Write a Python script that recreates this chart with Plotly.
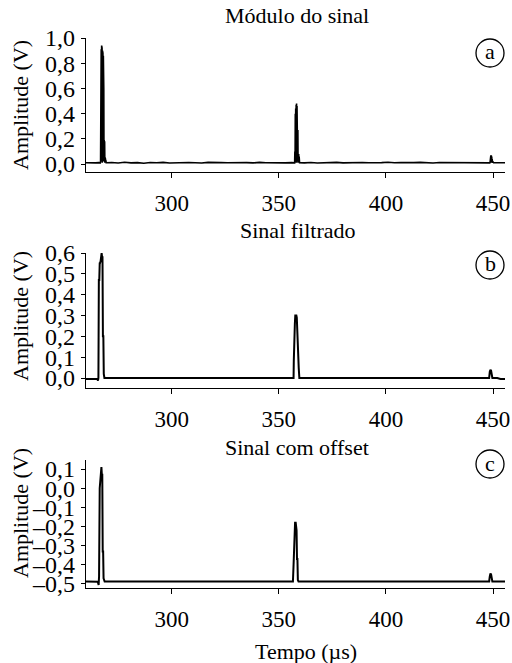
import plotly.graph_objects as go

# ---------------- data ----------------
# Panel (a): Módulo do sinal
base_a1_t = [260, 261.5, 263, 264.5, 266, 266.7]
base_a1_v = [0.010, 0.008, 0.012, 0.009, 0.011, 0.010]
peak_a1_t = [266.8, 266.9, 267.0, 267.1, 267.2, 267.3, 267.4, 267.5, 267.6, 267.7, 267.8, 267.9,
             268.0, 268.1, 268.2, 268.3, 268.4, 268.5, 268.6, 268.7, 268.8, 268.9, 269.0, 269.1,
             269.2, 269.3, 269.4]
peak_a1_v = [0.02, 0.84, 0.05, 0.91, 0.02, 0.94, 0.03, 0.92, 0.01, 0.90, 0.04, 0.88,
             0.02, 0.86, 0.05, 0.60, 0.03, 0.19, 0.02, 0.18, 0.01, 0.05, 0.01, 0.04,
             0.01, 0.03, 0.01]
base_a2_t = [269.6, 272, 275, 278, 281, 284, 287, 290, 293, 296, 299, 302, 305, 308, 311, 314,
             317, 320, 323, 326, 329, 332, 335, 338, 341, 344, 347, 350, 353, 356, 357.3]
base_a2_v = [0.010, 0.012, 0.008, 0.014, 0.009, 0.011, 0.007, 0.012, 0.010, 0.013, 0.008, 0.011,
             0.009, 0.012, 0.010, 0.008, 0.013, 0.009, 0.011, 0.010, 0.012, 0.008, 0.011, 0.009,
             0.013, 0.010, 0.008, 0.012, 0.009, 0.011, 0.010]
peak_a2_t = [357.4, 357.5, 357.6, 357.7, 357.8, 357.9, 358.0, 358.1, 358.2, 358.3, 358.4, 358.5,
             358.6, 358.7, 358.8, 358.9, 359.0, 359.1, 359.2, 359.3, 359.4, 359.5, 359.6]
peak_a2_v = [0.01, 0.10, 0.01, 0.40, 0.02, 0.44, 0.03, 0.47, 0.01, 0.48, 0.02, 0.46,
             0.03, 0.44, 0.02, 0.27, 0.01, 0.26, 0.02, 0.08, 0.01, 0.06, 0.01]
base_a3_t = [359.7, 362, 365, 368, 371, 374, 377, 380, 383, 386, 389, 392, 395, 398, 401, 404,
             407, 410, 413, 416, 419, 422, 425, 428, 431, 434, 437, 440, 443, 446, 448.5]
base_a3_v = [0.010, 0.009, 0.012, 0.008, 0.011, 0.010, 0.013, 0.009, 0.011, 0.008, 0.012, 0.010,
             0.009, 0.011, 0.014, 0.010, 0.012, 0.009, 0.011, 0.013, 0.010, 0.008, 0.012, 0.011,
             0.009, 0.010, 0.012, 0.008, 0.011, 0.010, 0.009]
peak_a3_t = [448.6, 448.8, 448.9, 449.0, 449.1, 449.2, 449.3, 449.4, 449.5, 449.6, 449.8, 450.0, 450.3]
peak_a3_v = [0.01, 0.05, 0.01, 0.07, 0.02, 0.07, 0.01, 0.06, 0.02, 0.04, 0.01, 0.02, 0.01]
base_a4_t = [450.5, 452, 454, 455.6]
base_a4_v = [0.010, 0.009, 0.011, 0.010]

# Panel (b): Sinal filtrado
t_b = [260, 262, 264, 265.3, 265.6, 265.8, 266.0, 266.2, 266.4, 266.5, 266.8, 267.0, 267.3, 267.5,
       267.7, 267.9, 268.1, 268.3, 268.6, 270, 300, 330, 356.9, 357.0, 357.2, 357.5, 357.7, 358.2,
       358.4, 358.6, 358.8, 359.0, 359.3, 359.6, 380, 420, 448.2, 448.5, 448.8, 449.1, 449.4,
       449.7, 452, 453.5, 455.6]
v_b = [-0.005, -0.005, -0.005, -0.005, -0.013, 0.0, 0.47, 0.47, 0.55, 0.55, 0.56, 0.60, 0.60, 0.58,
       0.58, 0.20, 0.20, 0.02, 0.0, 0.0, 0.0, 0.0, 0.0, 0.08, 0.26, 0.26, 0.30, 0.30,
       0.29, 0.21, 0.21, 0.05, 0.05, 0.0, 0.0, 0.0, 0.0, 0.03, 0.04, 0.035, 0.01,
       0.0, 0.0, -0.005, -0.005]

# Panel (c): Sinal com offset
t_c = [260, 263, 265.5, 265.9, 266.1, 266.4, 266.7, 266.9, 267.2, 267.4, 267.6, 267.8, 268.0, 268.2,
       268.4, 268.7, 272, 320, 356.6, 356.9, 357.1, 357.4, 357.6, 357.9, 358.1, 358.3, 358.5, 358.7,
       358.9, 359.2, 380, 420, 448.2, 448.5, 448.8, 449.1, 449.4, 449.7, 452, 455.6]
v_c = [-0.487, -0.487, -0.488, -0.505, -0.46, 0.0, 0.07, 0.07, 0.11, 0.07, 0.07, -0.33, -0.33, -0.47,
       -0.487, -0.487, -0.487, -0.487, -0.487, -0.40, -0.32, -0.32, -0.18, -0.18, -0.22, -0.22, -0.37,
       -0.37, -0.48, -0.487, -0.487, -0.487, -0.487, -0.46, -0.445, -0.45, -0.48, -0.487, -0.487, -0.487]

panel_titles = ["Módulo do sinal", "Sinal filtrado", "Sinal com offset"]
panel_letters = ["a", "b", "c"]
y_title = "Amplitude (V)"
x_title = "Tempo (µs)"

x_tickvals = [300, 350, 400, 450]
x_ticktext = ["300", "350", "400", "450"]
ya_tickvals = [0.0, 0.2, 0.4, 0.6, 0.8, 1.0]
ya_ticktext = ["0,0", "0,2", "0,4", "0,6", "0,8", "1,0"]
yb_tickvals = [0.0, 0.1, 0.2, 0.3, 0.4, 0.5, 0.6]
yb_ticktext = ["0,0", "0,1", "0,2", "0,3", "0,4", "0,5", "0,6"]
yc_tickvals = [-0.5, -0.4, -0.3, -0.2, -0.1, 0.0, 0.1]
yc_ticktext = ["–0,5", "–0,4", "–0,3", "–0,2", "–0,1", "0,0", "0,1"]

# ---------------- figure ----------------
t_a = base_a1_t + peak_a1_t + base_a2_t + peak_a2_t + base_a3_t + peak_a3_t + base_a4_t
v_a = base_a1_v + peak_a1_v + base_a2_v + peak_a2_v + base_a3_v + peak_a3_v + base_a4_v

FONT = "Liberation Serif"
W, H = 512, 663
ML, MR = 86, 7
PW = W - ML - MR

def px(x):
    return (x - ML) / PW

def py(y):
    return 1 - y / H

fig = go.Figure()
fig.add_trace(go.Scatter(x=t_a, y=v_a, mode="lines", line=dict(color="black", width=1.6),
                         xaxis="x", yaxis="y", showlegend=False, hoverinfo="skip"))
fig.add_trace(go.Scatter(x=t_b, y=v_b, mode="lines", line=dict(color="black", width=2),
                         xaxis="x2", yaxis="y2", showlegend=False, hoverinfo="skip"))
fig.add_trace(go.Scatter(x=t_c, y=v_c, mode="lines", line=dict(color="black", width=2),
                         xaxis="x3", yaxis="y3", showlegend=False, hoverinfo="skip"))

# pixel rows: (top, bottom) of each panel
rows = [(38, 172), (253, 388), (460, 588)]
yranges = [[-0.063, 1.0], [-0.048, 0.6], [-0.521, 0.147]]
yticks = [(ya_tickvals, ya_ticktext), (yb_tickvals, yb_ticktext), (yc_tickvals, yc_ticktext)]

axis_common = dict(showline=True, linecolor="black", linewidth=1.3, ticks="outside",
                   tickcolor="black", tickwidth=1.2, showgrid=False, zeroline=False,
                   automargin=False)

layout = dict(template="none", width=W, height=H, margin=dict(l=ML, r=MR, t=0, b=0),
              paper_bgcolor="white", plot_bgcolor="white",
              font=dict(family=FONT, size=22, color="black"))
for i in range(3):
    sfx = "" if i == 0 else str(i + 1)
    top, bot = rows[i]
    layout["xaxis" + sfx] = dict(axis_common, domain=[0, 1], range=[260, 455.6],
                                 tickvals=x_tickvals, ticktext=x_ticktext, ticklen=5,
                                 ticklabelstandoff=5, anchor="y" + sfx,
                                 tickfont=dict(family=FONT, size=23, color="black"))
    layout["yaxis" + sfx] = dict(axis_common, domain=[py(bot), py(top)], range=yranges[i],
                                 tickvals=yticks[i][0], ticktext=yticks[i][1], ticklen=4,
                                 ticklabelstandoff=1, anchor="x" + sfx,
                                 tickfont=dict(family=FONT, size=24, color="black"))
fig.update_layout(**layout)

title_y = [15, 230, 447]
ytitle_y = [105, 316, 513]
circle_y = [53, 265, 464]
for i in range(3):
    fig.add_annotation(text=panel_titles[i], xref="paper", yref="paper", x=px(297), y=py(title_y[i]),
                       xanchor="center", yanchor="middle", showarrow=False,
                       font=dict(family=FONT, size=22, color="black"))
    fig.add_annotation(text=y_title, xref="paper", yref="paper", x=px(20), y=py(ytitle_y[i]),
                       xanchor="center", yanchor="middle", showarrow=False, textangle=-90,
                       font=dict(family=FONT, size=22, color="black"))
    cy = circle_y[i]
    fig.add_shape(type="circle", xref="paper", yref="paper",
                  x0=px(476), x1=px(504), y0=py(cy + 14), y1=py(cy - 14),
                  line=dict(color="black", width=1.3))
    fig.add_annotation(text=panel_letters[i], xref="paper", yref="paper", x=px(490), y=py(cy - 1),
                       xanchor="center", yanchor="middle", showarrow=False,
                       font=dict(family=FONT, size=22, color="black"))

fig.add_annotation(text=x_title, xref="paper", yref="paper", x=px(306), y=py(651),
                   xanchor="center", yanchor="middle", showarrow=False,
                   font=dict(family=FONT, size=22, color="black"))

fig.write_html("out.html", config={"displayModeBar": False},
               post_script="document.body.style.margin='0';document.body.style.overflow='hidden';")
